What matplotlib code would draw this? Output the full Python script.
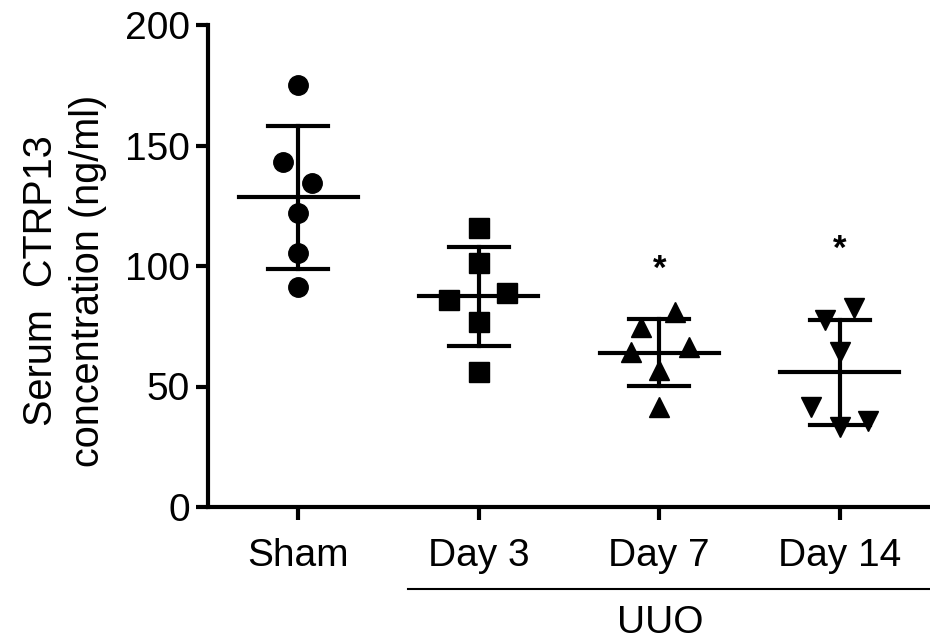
import numpy as np
import matplotlib.pyplot as plt
from matplotlib.lines import Line2D

plt.rcParams['font.family'] = ['Liberation Sans', 'DejaVu Sans']

# data
groups = ['Sham', 'Day 3', 'Day 7', 'Day 14']
sham = [175.1, 143.2, 134.4, 122.0, 105.4, 91.3]
day3 = [115.8, 101.2, 85.9, 88.8, 76.8, 56.0]
day7 = [80.9, 74.7, 64.3, 66.4, 56.8, 41.5]
day14 = [82.6, 77.6, 64.3, 41.5, 33.2, 35.7]
# horizontal scatter of points within each column
jitter = [[0, -0.083, 0.077, 0, 0, 0],
          [0, 0, -0.166, 0.155, 0, 0],
          [0.088, -0.1, -0.155, 0.166, 0, 0],
          [0.077, -0.083, 0, -0.16, 0, 0.155]]
markers = ['o', 's', '^', 'v']
stars = {2: 98.5, 3: 107}

values = [sham, day3, day7, day14]

fig = plt.figure(figsize=(9.3, 6.4), dpi=100)
ax = fig.add_axes([208/930, 1-507/640, 1-208/930, (507-25)/640])

for i, vals in enumerate(values):
    vals = np.array(vals)
    xs = i + np.array(jitter[i])
    ax.plot(xs, vals, linestyle='none', marker=markers[i], color='black',
            markersize=14, clip_on=False, zorder=2)
    m = vals.mean()
    sd = vals.std(ddof=1)
    ax.plot([i-0.33, i+0.33], [m, m], color='black', lw=3, zorder=3)
    ax.plot([i, i], [m-sd, m+sd], color='black', lw=3, zorder=3)
    ax.plot([i-0.166, i+0.166], [m+sd, m+sd], color='black', lw=3, zorder=3)
    ax.plot([i-0.166, i+0.166], [m-sd, m-sd], color='black', lw=3, zorder=3)

for i, y in stars.items():
    ax.text(i, y, '*', ha='center', va='center', fontsize=25, fontweight='bold')

ax.set_xlim(-0.5, 3.5)
ax.set_ylim(0, 200)
ax.set_yticks([0, 50, 100, 150, 200])
ax.set_xticks(range(4))
ax.set_xticklabels(groups)
ax.spines['top'].set_visible(False)
ax.spines['right'].set_visible(False)
ax.spines['left'].set_linewidth(3)
ax.spines['bottom'].set_linewidth(3)
ax.tick_params(axis='both', width=3, length=9, labelsize=28, color='black')
ax.tick_params(axis='x', pad=13)
ax.tick_params(axis='y', pad=4)
ax.set_ylabel('Serum  CTRP13\nconcentration (ng/ml)', fontsize=28.5, linespacing=1.3)
ax.yaxis.set_label_coords(-0.14, 0.469)

fig.add_artist(Line2D([408/930, 1], [1-589/640, 1-589/640], color='black', lw=1.5))
fig.text(660/930, 1-623/640, 'UUO', ha='center', va='center', fontsize=28)

fig.savefig('out.png', dpi=100)
